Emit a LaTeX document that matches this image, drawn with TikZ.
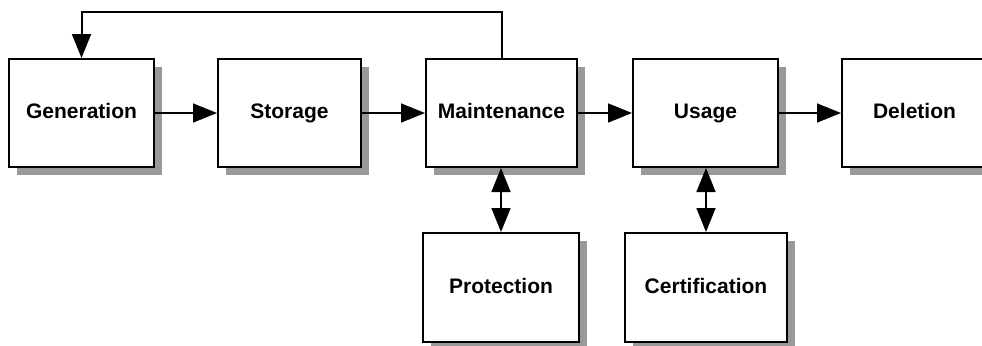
\documentclass[tikz,border=0pt]{standalone}
\usepackage{fontspec}
\setmainfont{Liberation Sans}
\usepackage{tikz}
\usetikzlibrary{arrows.meta,shadows}

\begin{document}
\begin{tikzpicture}[x = 0.5pt, y = -0.5pt, line width = 0.8pt,
    box/.style = {rectangle, draw, line width = 1pt, fill = white, inner sep = 0pt,
        minimum height = 54pt, text height = 7.8pt, text depth = 2.2pt,
        font = \fontsize{10.5}{12}\selectfont\bfseries,
        drop shadow = {shadow xshift = 4pt, shadow yshift = -4pt, fill = black!40, opacity = 1}},
    tip/.style = {-{Triangle[length = 12pt, width = 9.5pt]}},
    both/.style = {{Triangle[length = 12pt, width = 9.5pt]}-{Triangle[length = 12pt, width = 9.5pt]}}]
\useasboundingbox (0,0) rectangle (982,345);
\draw (81.5,113) node[box, minimum width = 72.5pt](b1){Generation}
    (289.5,113) node[box, minimum width = 71.5pt](b2){Storage}
    (501.5,113) node[box, minimum width = 75.5pt](b3){Maintenance}
    (705.5,113) node[box, minimum width = 72.5pt](b4){Usage}
    (914.5,113) node[box, minimum width = 72.5pt](b5){Deletion}
    (501,287.5) node[box, minimum width = 78pt, minimum height = 54.5pt](b6){Protection}
    (706,287.5) node[box, minimum width = 81pt, minimum height = 54.5pt](b7){Certification};
    \draw [tip] (b1) -- (b2);
    \draw [tip] (b2) -- (b3);
    \draw [tip] (b3) -- (b4);
    \draw [tip] (b4) -- (b5);
    \draw [tip, line width = 1pt] (b3.north) -- ++(0,-46) -| (b1.north);
    \draw [both] (b6.north |- b3.south) -- (b6.north);
    \draw [both] (b7.north |- b4.south) -- (b7.north);
\end{tikzpicture}
\end{document}
